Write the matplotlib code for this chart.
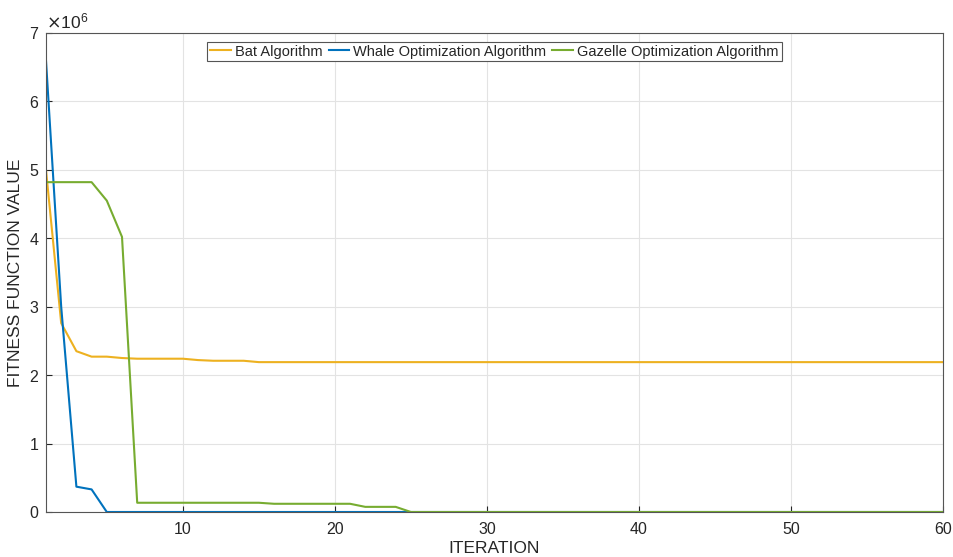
import numpy as np
import matplotlib
matplotlib.use("Agg")
import matplotlib.pyplot as plt

plt.rcParams['font.family'] = ['Liberation Sans', 'DejaVu Sans']

# Iterations 1..60
iteration = np.arange(1, 61)

# Bat Algorithm (x1e6)
bat = [5.00, 2.76, 2.35, 2.27, 2.27, 2.25, 2.24, 2.24, 2.24, 2.24,
       2.22, 2.21, 2.21, 2.21, 2.19] + [2.19] * 45

# Whale Optimization Algorithm (x1e6)
whale = [6.60, 3.00, 0.37, 0.33, 0.00] + [0.00] * 55

# Gazelle Optimization Algorithm (x1e6)
gazelle = [4.82, 4.82, 4.82, 4.82, 4.55, 4.02, 0.135, 0.135, 0.135, 0.135,
           0.135, 0.135, 0.135, 0.135, 0.135, 0.12, 0.12, 0.12, 0.12, 0.12,
           0.12, 0.075, 0.075, 0.075, 0.00] + [0.00] * 35

bat = np.array(bat) * 1e6
whale = np.array(whale) * 1e6
gazelle = np.array(gazelle) * 1e6

text_col = '#262626'

fig = plt.figure(figsize=(9.54, 5.57), dpi=100)
ax = fig.add_axes([0.0482, 0.0808, 0.9403, 0.86])

ax.plot(iteration, bat, color='#EDB120', lw=1.5, label='Bat Algorithm')
ax.plot(iteration, whale, color='#0072BD', lw=1.5, label='Whale Optimization Algorithm')
ax.plot(iteration, gazelle, color='#77AC30', lw=1.5, label='Gazelle Optimization Algorithm')

ax.set_xlim(1, 60)
ax.set_ylim(0, 7e6)
ax.set_xticks([10, 20, 30, 40, 50, 60])
ax.set_yticks(np.arange(0, 8e6, 1e6))
ax.ticklabel_format(axis='y', style='sci', scilimits=(6, 6), useMathText=True)
ax.yaxis.get_offset_text().set_fontsize(12.5)
ax.yaxis.get_offset_text().set_color(text_col)

ax.grid(True, color='#e3e3e3', lw=0.8)
ax.set_axisbelow(True)
ax.tick_params(direction='in', length=4, labelsize=11.5, colors=text_col)
ax.tick_params(axis='x', pad=7)
ax.tick_params(axis='y', pad=5)
for s in ax.spines.values():
    s.set_color('#555555')
    s.set_linewidth(0.8)

ax.set_xlabel('ITERATION', fontsize=12.5, color=text_col, labelpad=3)
ax.set_ylabel('FITNESS FUNCTION VALUE', fontsize=12.5, color=text_col, labelpad=4)

leg = ax.legend(loc='upper center', ncol=3, fontsize=10.5, handlelength=1.4,
                handletextpad=0.3, columnspacing=0.4, fancybox=False,
                framealpha=1, edgecolor='#555555', borderpad=0.2,
                borderaxespad=0.2, bbox_to_anchor=(0.5, 0.988))
leg.get_frame().set_linewidth(0.8)
for t in leg.get_texts():
    t.set_color(text_col)

plt.savefig('out.png', dpi=100)
